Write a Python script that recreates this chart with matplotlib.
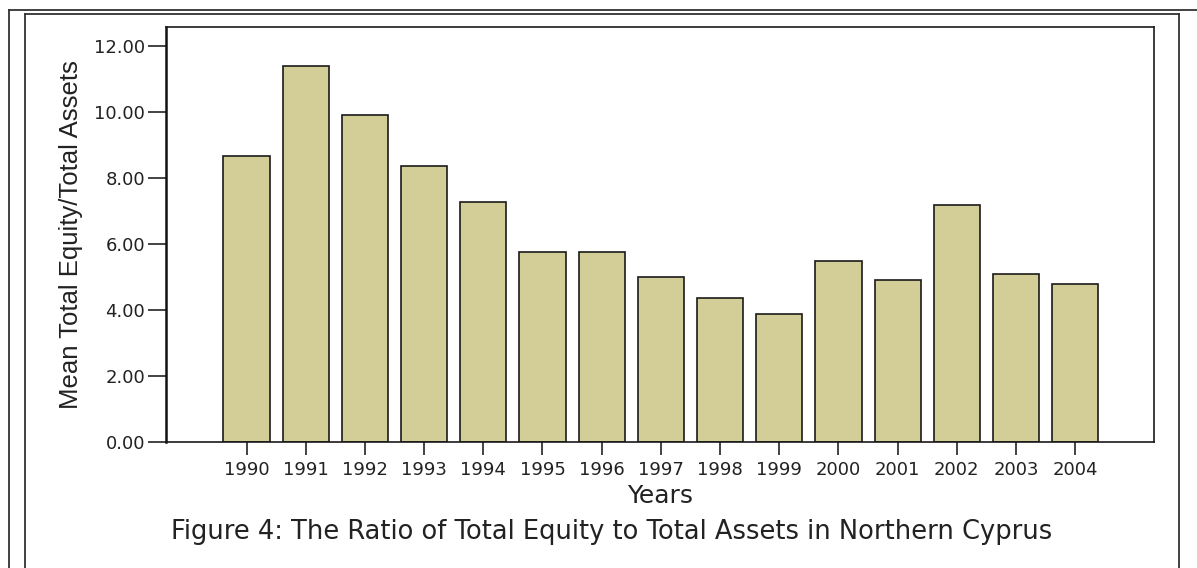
# Ratio of total equity to total assets - bar chart
import numpy as np
import matplotlib.pyplot as plt
from matplotlib.lines import Line2D

# Data
years = ['1990', '1991', '1992', '1993', '1994', '1995', '1996', '1997',
         '1998', '1999', '2000', '2001', '2002', '2003', '2004']
equity_ratio = [8.67, 11.39, 9.90, 8.37, 7.29, 5.77, 5.77, 4.99,
                4.38, 3.87, 5.50, 4.90, 7.19, 5.10, 4.78]

W, H = 1197, 568
plt.rcParams['font.family'] = ['DejaVu Sans']

fig = plt.figure(figsize=(W / 100, H / 100), dpi=100)
fig.patch.set_facecolor('white')

# axes box in pixels: left 166, right 1154, top 27, bottom 442
ax = fig.add_axes([166 / W, 1 - 442 / H, (1154 - 166) / W, (442 - 27) / H])

x = np.arange(len(years))
ax.bar(x, equity_ratio, width=0.78, color='#d3ce98',
       edgecolor='#1a1a1a', linewidth=1.2, zorder=2)

ax.set_xlim(-1.36, 15.33)
ax.set_ylim(0, 12.58)
ax.set_yticks(np.arange(0, 13, 2))
ax.set_yticklabels(['%.2f' % v for v in np.arange(0, 13, 2)])
ax.set_xticks(x)
ax.set_xticklabels(years)

ax.tick_params(axis='y', length=13, width=1.2, pad=2, labelsize=13,
               colors='#222222')
ax.tick_params(axis='x', length=9, width=1.2, pad=5, labelsize=13,
               colors='#222222')
for side in ['top', 'right', 'bottom']:
    ax.spines[side].set_linewidth(1.2)
    ax.spines[side].set_color('#1a1a1a')
ax.spines['left'].set_linewidth(1.8)
ax.spines['left'].set_color('#111111')

ax.set_xlabel('Years', fontsize=18, color='#222222', labelpad=3)
ax.set_ylabel('Mean Total Equity/Total Assets', fontsize=18.5,
              family='Liberation Sans', color='#222222', labelpad=8)

fig.text(612 / W, 1 - 532 / H,
         'Figure 4: The Ratio of Total Equity to Total Assets in Northern Cyprus',
         ha='center', va='center', fontsize=18.5, color='#222222')

# page frame lines around the figure
def px_line(x0, y0, x1, y1):
    fig.add_artist(Line2D([x0 / W, x1 / W], [1 - y0 / H, 1 - y1 / H],
                          transform=fig.transFigure, color='#333333',
                          linewidth=1.3))

px_line(9, 10, W, 10)
px_line(9, 10, 9, H)
px_line(25, 14, 1179, 14)
px_line(25, 14, 25, H)
px_line(1179, 14, 1179, H)

fig.savefig('out.png', dpi=100)
